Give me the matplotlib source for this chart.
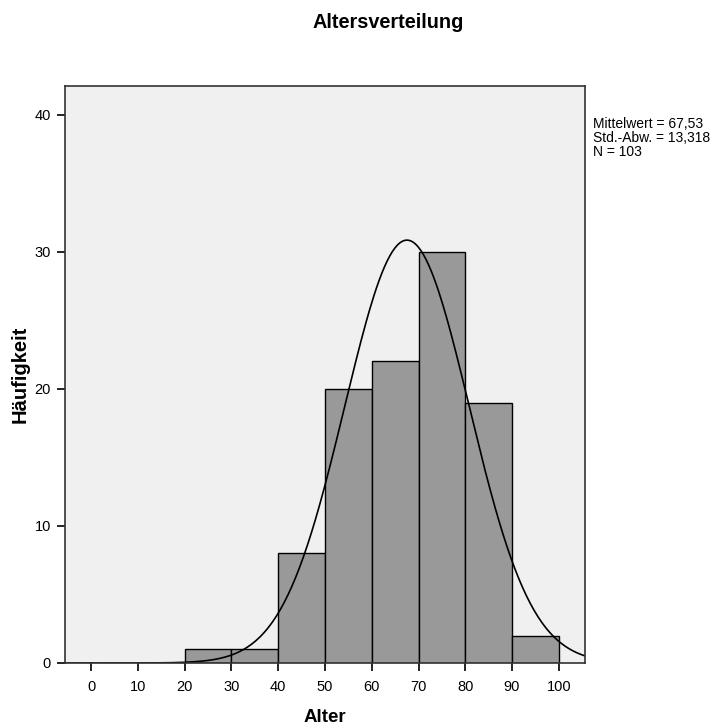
import numpy as np
import matplotlib.pyplot as plt

plt.rcParams['font.family'] = ['Liberation Sans', 'DejaVu Sans']

# histogram bins (Alter) and counts
binEdges = [20, 30, 40, 50, 60, 70, 80, 90, 100]
counts = [1, 1, 8, 20, 22, 30, 19, 2]

# fitted normal curve parameters shown in the legend text
meanAge = 67.53
stdAge = 13.318
nCases = 103

xTicks = [0, 10, 20, 30, 40, 50, 60, 70, 80, 90, 100]
yTicks = [0, 10, 20, 30, 40]

fig = plt.figure(figsize=(7.16, 7.27), dpi=100)
ax = fig.add_axes([65 / 716, 1 - 663 / 727, 520 / 716, 577 / 727])
ax.set_facecolor('#f0f0f0')

ax.bar(binEdges[:-1], counts, width=np.diff(binEdges), align='edge',
       color='#999999', edgecolor='black', linewidth=1.0)

binWidth = binEdges[1] - binEdges[0]
xs = np.linspace(-5.6, 105.6, 400)
ys = nCases * binWidth / (stdAge * np.sqrt(2 * np.pi)) * np.exp(-0.5 * ((xs - meanAge) / stdAge) ** 2)
ax.plot(xs, ys, color='black', linewidth=1.2)

ax.set_xlim(-5.6, 105.6)
ax.set_ylim(0, 42.1)
ax.set_xticks(xTicks)
ax.set_yticks(yTicks)
ax.tick_params(direction='out', length=6, width=1.2, labelsize=10.5, colors='black', pad=4)
ax.tick_params(axis='x', pad=6)
for s in ax.spines.values():
    s.set_linewidth(1.2)
    s.set_color('#333333')

ax.set_xlabel('Alter', fontsize=13.5, fontweight='bold', va='center')
ax.set_ylabel('Häufigkeit', fontsize=14.5, fontweight='bold', va='center')
ax.xaxis.set_label_coords(0.5, (663 - 718) / 577)
ax.yaxis.set_label_coords((20 - 65) / 520, 0.5)

fig.text(388 / 716, 1 - 22 / 727, 'Altersverteilung', ha='center', va='center',
         fontsize=14.3, fontweight='bold')
fig.text(593 / 716, 1 - 117 / 727,
         'Mittelwert = 67,53\nStd.-Abw. = 13,318\nN = 103',
         ha='left', va='top', fontsize=10, linespacing=1.0)

fig.savefig('out.png', dpi=100)
